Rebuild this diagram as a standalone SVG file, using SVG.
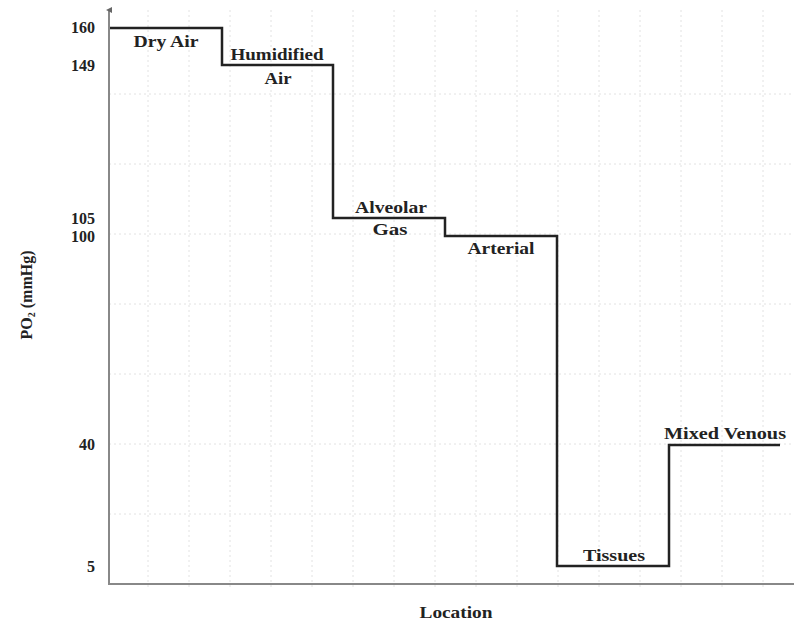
<svg xmlns="http://www.w3.org/2000/svg" width="794" height="624" viewBox="0 0 794 624">
<style>
.grid{stroke:#e2e2e2;stroke-width:1;stroke-dasharray:2 3;fill:none}
.axis{stroke:#888;stroke-width:2;fill:none}
.step{stroke:#222;stroke-width:2.5;fill:none;stroke-linejoin:miter}
.lbl{font-family:"Liberation Serif","Times New Roman",serif;font-size:16px;font-weight:bold;fill:#222;text-anchor:middle}
.tick{font-family:"Liberation Serif","Times New Roman",serif;font-size:16px;font-weight:bold;fill:#222;text-anchor:end}
</style>
<defs>
<marker id="arr" markerWidth="6" markerHeight="6" refX="3" refY="3" orient="auto" markerUnits="userSpaceOnUse">
<path d="M0,6 L3,0 L6,6 Z" fill="#666"/>
</marker>
</defs>
<rect width="794" height="624" fill="#fff"/>
<g id="grid">
<path class="grid" d="M109,94H794M109,164H794M109,234H794M109,304H794M109,374H794M109,444H794M109,514H794"/>
<path class="grid" d="M148,10V590M189,10V590M230,10V590M271,10V590M312,10V590M353,10V590M394,10V590M435,10V590M476,10V590M517,10V590M558,10V590M599,10V590M640,10V590M681,10V590M722,10V590M763,10V590"/>
</g>
<g id="axes">
<line class="axis" x1="109" y1="584" x2="109" y2="10" marker-end="url(#arr)"/>
<line class="axis" x1="108" y1="584" x2="794" y2="584"/>
</g>
<g id="ticks">
<text class="tick" x="95" y="33">160</text>
<text class="tick" x="95" y="71">149</text>
<text class="tick" x="95" y="224">105</text>
<text class="tick" x="95" y="242">100</text>
<text class="tick" x="95" y="450">40</text>
<text class="tick" x="95" y="572">5</text>
</g>
<g id="connectors">
<path class="step" d="M110,28H222V65H333V218H445V236H557V566H669V445H780"/>
</g>
<g id="dry-air"><text class="lbl" x="166" y="47" textLength="65" lengthAdjust="spacingAndGlyphs">Dry Air</text></g>
<g id="humidified-air">
<text class="lbl" x="277" y="60" textLength="93" lengthAdjust="spacingAndGlyphs">Humidified</text>
<text class="lbl" x="278" y="84" textLength="27" lengthAdjust="spacingAndGlyphs">Air</text>
</g>
<g id="alveolar-gas">
<text class="lbl" x="391" y="213" textLength="72" lengthAdjust="spacingAndGlyphs">Alveolar</text>
<text class="lbl" x="390" y="235" textLength="35" lengthAdjust="spacingAndGlyphs">Gas</text>
</g>
<g id="arterial"><text class="lbl" x="501" y="254" textLength="67" lengthAdjust="spacingAndGlyphs">Arterial</text></g>
<g id="tissues"><text class="lbl" x="614" y="561" textLength="62" lengthAdjust="spacingAndGlyphs">Tissues</text></g>
<g id="mixed-venous"><text class="lbl" x="725" y="439" textLength="122" lengthAdjust="spacingAndGlyphs">Mixed Venous</text></g>
<g id="x-label"><text class="lbl" x="456" y="618" font-size="15" textLength="73" lengthAdjust="spacingAndGlyphs">Location</text></g>
<g id="y-label"><text class="lbl" font-size="14" transform="translate(32,295) rotate(-90)">PO<tspan font-size="10" dy="3">2</tspan><tspan dy="-3"> (mmHg)</tspan></text></g>
</svg>
